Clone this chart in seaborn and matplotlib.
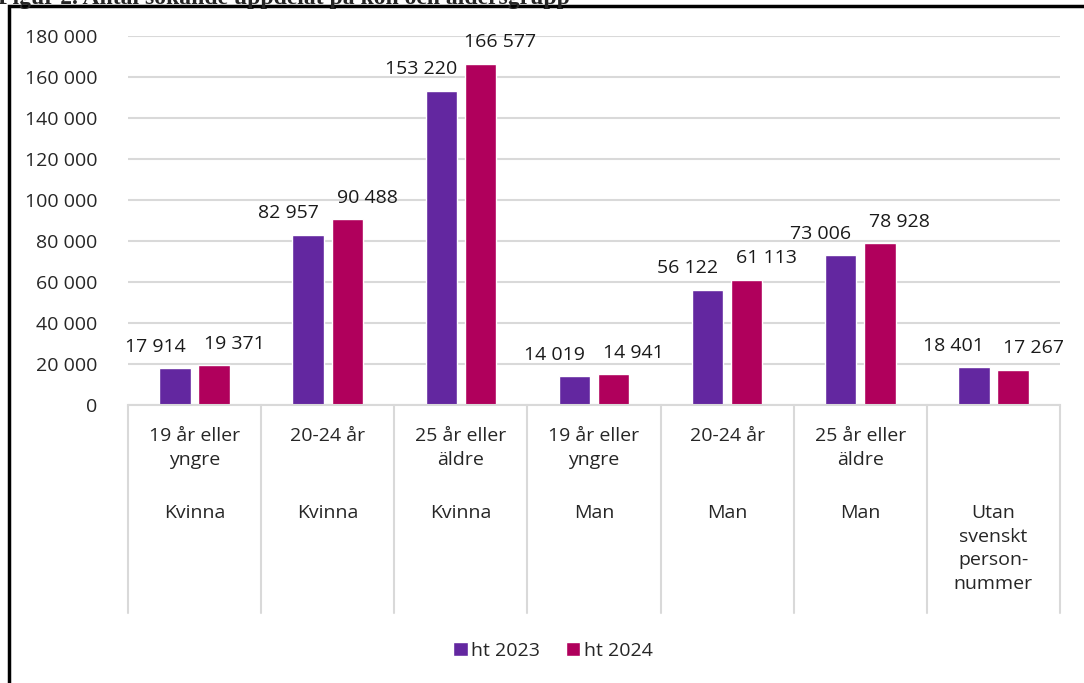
import pandas as pd
import numpy as np
import matplotlib.pyplot as plt
import seaborn as sns
from matplotlib.patches import Rectangle
from matplotlib.transforms import blended_transform_factory

# data
age_groups = ['19 år eller\nyngre', '20-24 år', '25 år eller\näldre',
              '19 år eller\nyngre', '20-24 år', '25 år eller\näldre', '']
genders = ['Kvinna', 'Kvinna', 'Kvinna', 'Man', 'Man', 'Man',
           'Utan\nsvenskt\nperson-\nnummer']
series_names = ['ht 2023', 'ht 2024']
values_2023 = [17914, 82957, 153220, 14019, 56122, 73006, 18401]
values_2024 = [19371, 90488, 166577, 14941, 61113, 78928, 17267]
y_ticks = [0, 20000, 40000, 60000, 80000, 100000, 120000, 140000, 160000, 180000]
title = 'Figur 2. Antal sökande uppdelat på kön och åldersgrupp'

colors = ['#6327A0', '#B0005C']
FS = 14

sns.set_theme(style='white')
plt.rcParams['font.family'] = ['Open Sans', 'DejaVu Sans']

n = len(genders)
df = pd.DataFrame({
    'cat': list(range(n)) * 2,
    'serie': [series_names[0]] * n + [series_names[1]] * n,
    'value': values_2023 + values_2024,
})

fig = plt.figure(figsize=(10.84, 6.83), dpi=100)
W, H = 1084, 683
ax = fig.add_axes([128 / W, 1 - 405 / H, (1060 - 128) / W, (405 - 36) / H])

sns.barplot(data=df, x='cat', y='value', hue='serie', palette=colors,
            width=0.59, gap=0.2, ax=ax, saturation=1, legend=True)

ax.set_ylim(0, 180000)
ax.set_xlim(-0.5, n - 0.5)
ax.set_yticks(y_ticks)
ax.set_yticklabels([f'{v:,}'.replace(',', ' ') for v in y_ticks], fontsize=FS)
ax.tick_params(axis='y', length=0, pad=22)
ax.set_xticks([])
ax.set_xlabel('')
ax.set_ylabel('')
ax.grid(axis='y', color='#D9D9D9', linewidth=1.5)
ax.set_axisbelow(True)
for s in ['top', 'right', 'left']:
    ax.spines[s].set_visible(False)
ax.spines['bottom'].set_color('#D9D9D9')
ax.spines['bottom'].set_linewidth(1.5)

# value labels, nudged outward like the original
for i, cont in enumerate(ax.containers):
    shift = -0.15 if i == 0 else 0.15
    for bar, v in zip(cont, [values_2023, values_2024][i]):
        cx = bar.get_x() + bar.get_width() / 2 + shift
        ax.annotate(f'{v:,}'.replace(',', ' '), (cx, v), xytext=(0, 9),
                    textcoords='offset points', ha='center', va='bottom',
                    fontsize=FS, color='#1a1a1a')

# multi-level category axis
trans = blended_transform_factory(ax.transData, ax.transAxes)
ax_h = 405 - 36
for k in range(n + 1):
    ax.plot([k - 0.5, k - 0.5], [0, -(613 - 405) / ax_h], transform=trans,
            color='#D9D9D9', lw=1.5, clip_on=False)
for k in range(n):
    if age_groups[k]:
        ax.text(k, -(427 - 405) / ax_h, age_groups[k], transform=trans,
                ha='center', va='top', fontsize=FS, linespacing=1.4)
    ax.text(k, -(504 - 405) / ax_h, genders[k], transform=trans,
            ha='center', va='top', fontsize=FS, linespacing=1.4)

leg = ax.legend(loc='center', bbox_to_anchor=(553 / W, 1 - 651 / H),
                bbox_transform=fig.transFigure, ncol=2, frameon=False,
                fontsize=FS, handlelength=0.75, handleheight=0.75,
                handletextpad=0.2, columnspacing=1.3)

# outer frame and clipped caption
fig.patches.append(Rectangle((9 / W, -0.05), 1.2, 1 - 6 / H + 0.05,
                             transform=fig.transFigure, fill=False,
                             edgecolor='black', lw=2.5))
fig.text(-2 / W, 1 + 2 / H, title, ha='left', va='center', fontsize=17,
         fontweight='bold', family=['Liberation Serif', 'DejaVu Serif'])

fig.savefig('out.png', dpi=100)
